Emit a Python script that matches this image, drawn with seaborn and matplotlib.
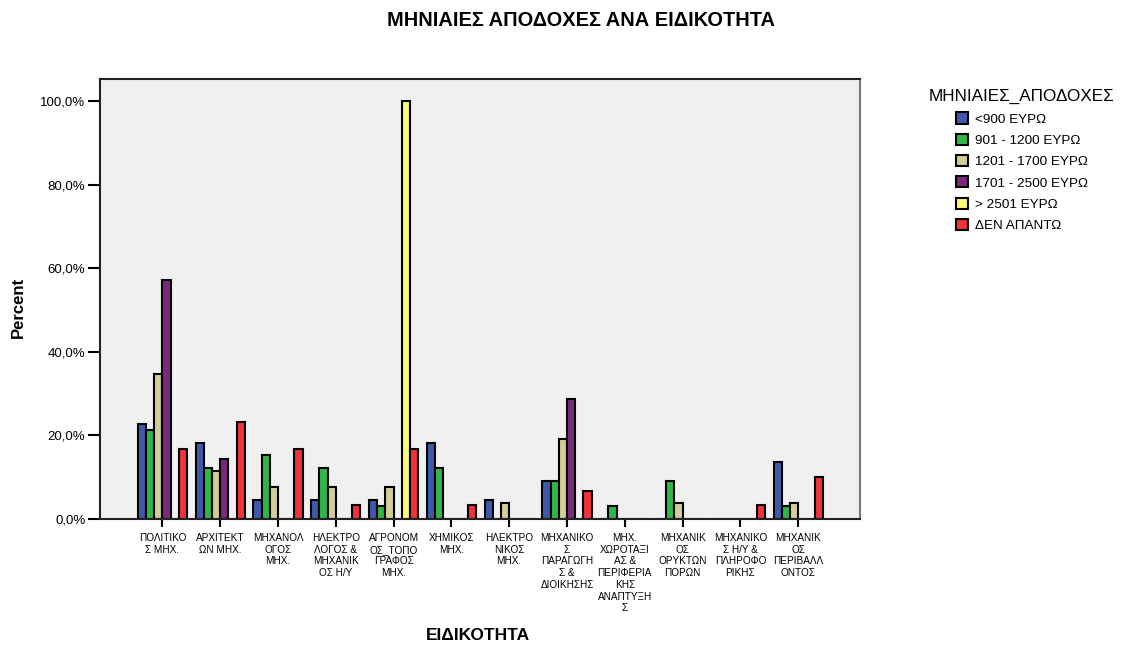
import pandas as pd
import matplotlib.pyplot as plt
import seaborn as sns
from matplotlib.ticker import FuncFormatter

sns.set_style("ticks")
plt.rcParams["font.family"] = ["Liberation Sans", "DejaVu Sans"]
plt.rcParams["text.color"] = "black"
plt.rcParams["axes.labelcolor"] = "black"
plt.rcParams["xtick.color"] = "black"
plt.rcParams["ytick.color"] = "black"

# ==========================================
# ДАННЫЕ
# ==========================================

specialties = [
    "ΠΟΛΙΤΙΚΟ\nΣ ΜΗΧ.",
    "ΑΡΧΙΤΕΚΤ\nΩΝ ΜΗΧ.",
    "ΜΗΧΑΝΟΛ\nΟΓΟΣ\nΜΗΧ.",
    "ΗΛΕΚΤΡΟ\nΛΟΓΟΣ &\nΜΗΧΑΝΙΚ\nΟΣ Η/Υ",
    "ΑΓΡΟΝΟΜ\nΟΣ_ΤΟΠΟ\nΓΡΑΦΟΣ\nΜΗΧ.",
    "ΧΗΜΙΚΟΣ\nΜΗΧ.",
    "ΗΛΕΚΤΡΟ\nΝΙΚΟΣ\nΜΗΧ.",
    "ΜΗΧΑΝΙΚΟ\nΣ\nΠΑΡΑΓΩΓΗ\nΣ &\nΔΙΟΙΚΗΣΗΣ",
    "ΜΗΧ.\nΧΩΡΟΤΑΞΙ\nΑΣ &\nΠΕΡΙΦΕΡΙΑ\nΚΗΣ\nΑΝΑΠΤΥΞΗ\nΣ",
    "ΜΗΧΑΝΙΚ\nΟΣ\nΟΡΥΚΤΩΝ\nΠΟΡΩΝ",
    "ΜΗΧΑΝΙΚΟ\nΣ Η/Υ &\nΠΛΗΡΟΦΟ\nΡΙΚΗΣ",
    "ΜΗΧΑΝΙΚ\nΟΣ\nΠΕΡΙΒΑΛΛ\nΟΝΤΟΣ",
]

salary_groups = [
    "<900 ΕΥΡΩ",
    "901 - 1200 ΕΥΡΩ",
    "1201 - 1700 ΕΥΡΩ",
    "1701 - 2500 ΕΥΡΩ",
    "> 2501 ΕΥΡΩ",
    "ΔΕΝ ΑΠΑΝΤΩ",
]

pct_under_900 = [22.7, 18.2, 4.5, 4.5, 4.5, 18.2, 4.5, 9.1, 0.0, 0.0, 0.0, 13.6]
pct_901_1200 = [21.2, 12.1, 15.2, 12.1, 3.0, 12.1, 0.0, 9.1, 3.0, 9.1, 0.0, 3.0]
pct_1201_1700 = [34.6, 11.5, 7.7, 7.7, 7.7, 0.0, 3.8, 19.2, 0.0, 3.8, 0.0, 3.8]
pct_1701_2500 = [57.1, 14.3, 0.0, 0.0, 0.0, 0.0, 0.0, 28.6, 0.0, 0.0, 0.0, 0.0]
pct_over_2501 = [0.0, 0.0, 0.0, 0.0, 100.0, 0.0, 0.0, 0.0, 0.0, 0.0, 0.0, 0.0]
pct_no_answer = [16.7, 23.3, 16.7, 3.3, 16.7, 3.3, 0.0, 6.7, 0.0, 0.0, 3.3, 10.0]

colors = ["#3E58AC", "#2EB848", "#D3CE97", "#7C287D", "#FBF873", "#EF3338"]

series = [pct_under_900, pct_901_1200, pct_1201_1700,
          pct_1701_2500, pct_over_2501, pct_no_answer]

rows = []
for grp, vals in zip(salary_groups, series):
    for spec, v in zip(specialties, vals):
        rows.append({"spec": spec, "salary": grp, "pct": v})
df = pd.DataFrame(rows)

# ==========================================
# ГРАФИК
# ==========================================

W, H = 1121, 645
fig = plt.figure(figsize=(W / 100, H / 100), dpi=100)
ax = fig.add_axes([100 / W, 1 - 519 / H, 760 / W, 440 / H])
ax.set_facecolor("#F0F0F0")

sns.barplot(
    data=df,
    x="spec",
    y="pct",
    hue="salary",
    order=specialties,
    hue_order=salary_groups,
    palette=colors,
    saturation=1,
    width=0.85,
    edgecolor="black",
    linewidth=1.5,
    errorbar=None,
    ax=ax,
)

ax.set_ylim(0, 105.3)
ax.set_xlim(-1.08, 12.07)
ax.set_yticks([0, 20, 40, 60, 80, 100])
ax.yaxis.set_major_formatter(
    FuncFormatter(lambda v, p: f"{v:.1f}".replace(".", ",") + "%")
)
ax.tick_params(axis="y", length=8.5, width=1.5, labelsize=9.5, pad=2)
ax.tick_params(axis="x", length=6, width=1.5, labelsize=7.2, pad=4)
for lab in ax.get_xticklabels():
    lab.set_verticalalignment("top")
    lab.set_linespacing(1.22)

for side in ["left", "bottom", "top"]:
    ax.spines[side].set_color("#222222")
    ax.spines[side].set_linewidth(1.5)
ax.spines["right"].set_color("#777777")
ax.spines["right"].set_linewidth(1.5)

ax.set_xlabel("ΕΙΔΙΚΟΤΗΤΑ", fontsize=12.5, fontweight="bold",
              va="center")
ax.xaxis.set_label_coords(0.4975, -(636 - 519) / 440)
ax.set_ylabel("Percent", fontsize=12, fontweight="bold", va="center")
ax.yaxis.set_label_coords(-82 / 760, 0.48)

fig.suptitle("ΜΗΝΙΑΙΕΣ ΑΠΟΔΟΧΕΣ ΑΝΑ ΕΙΔΙΚΟΤΗΤΑ",
             fontsize=14.4, fontweight="bold", x=581 / W, y=1 - 20 / H,
             va="center")

handles, labels = ax.get_legend_handles_labels()
ax.get_legend().remove()
fig.legend(
    handles, labels,
    title="ΜΗΝΙΑΙΕΣ_ΑΠΟΔΟΧΕΣ",
    title_fontsize=12.3,
    fontsize=9.7,
    loc="upper left",
    bbox_to_anchor=(917 / W, 1 - 77 / H),
    frameon=False,
    handlelength=0.9,
    handleheight=0.9,
    handletextpad=0.55,
    labelspacing=0.6,
)

fig.savefig("out.png", dpi=100)
